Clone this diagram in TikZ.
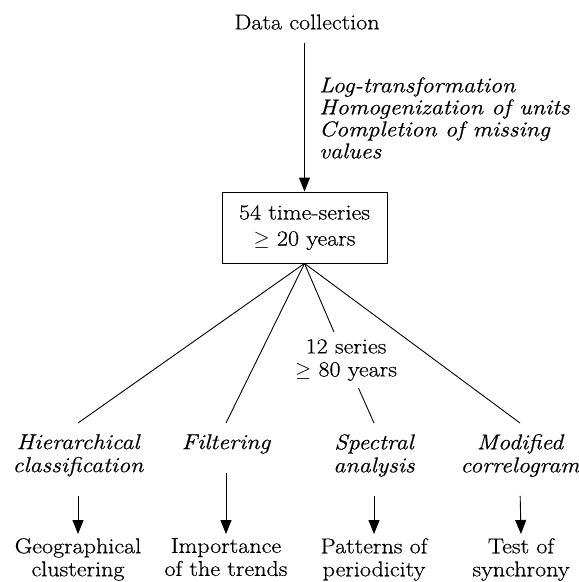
\documentclass[tikz,border=0pt]{standalone}
\usepackage{fontspec}
\setmainfont{Latin Modern Roman}[FakeStretch=1.12,FakeBold=0.5]
\usetikzlibrary{arrows.meta}
\begin{document}
\begin{tikzpicture}[x=1pt,y=-1pt,
  every node/.style={font=\fontsize{21.5}{23}\selectfont},
  lbl/.style={align=center,font=\fontsize{21.5}{23}\selectfont\itshape, anchor=north, inner xsep=0pt, inner ysep=11pt},
  res/.style={align=center, anchor=north, inner xsep=0pt, inner ysep=4pt},
  ln/.style={line width=0.9pt},
  arr/.style={ln,-{Triangle[length=14pt,width=11pt]}}]
\useasboundingbox (0,0) rectangle (579,582);
\node (dc) [inner ysep=13pt] at (307,22) {Data collection};
\node (box) [draw, ln, minimum width=165pt, minimum height=71pt, align=center] at (304.5,227.5) {54 time-series\\[3pt]$\geq$ 20 years};
\node (prep) [anchor=north west, inner sep=0pt, align=left, font=\fontsize{21.5}{22}\selectfont\itshape] at (319,77) {Log-transformation\\Homogenization of units\\Completion of missing\\values};
\node (m1) [lbl] at (78,423) {Hierarchical\\classification};
\node (m2) [lbl] at (226,423) {Filtering};
\node (m3) [lbl] at (374,423) {Spectral\\analysis};
\node (m4) [lbl] at (520,423) {Modified\\correlogram};
\node (s12) [align=center, minimum height=56pt, inner sep=0pt] at (346,360) {12 series\\$\geq$ 80 years};
\node (r1) [res] at (78,534) {Geographical\\clustering};
\node (r2) [res] at (226,534) {Importance\\of the trends};
\node (r3) [res] at (374,534) {Patterns of\\periodicity};
\node (r4) [res] at (521,534) {Test of\\synchrony};
\draw[arr] (dc.south -| box.north) -- (box.north);
\foreach \m in {m1,m2,m4} \draw[ln] (box.south) -- (\m.north);
\draw[ln] (box.south) -- (s12) -- (m3.north);
\foreach \i in {1,2,3,4} \draw[arr, shorten <=8pt] (m\i.south) -- (r\i.north);
\end{tikzpicture}
\end{document}
